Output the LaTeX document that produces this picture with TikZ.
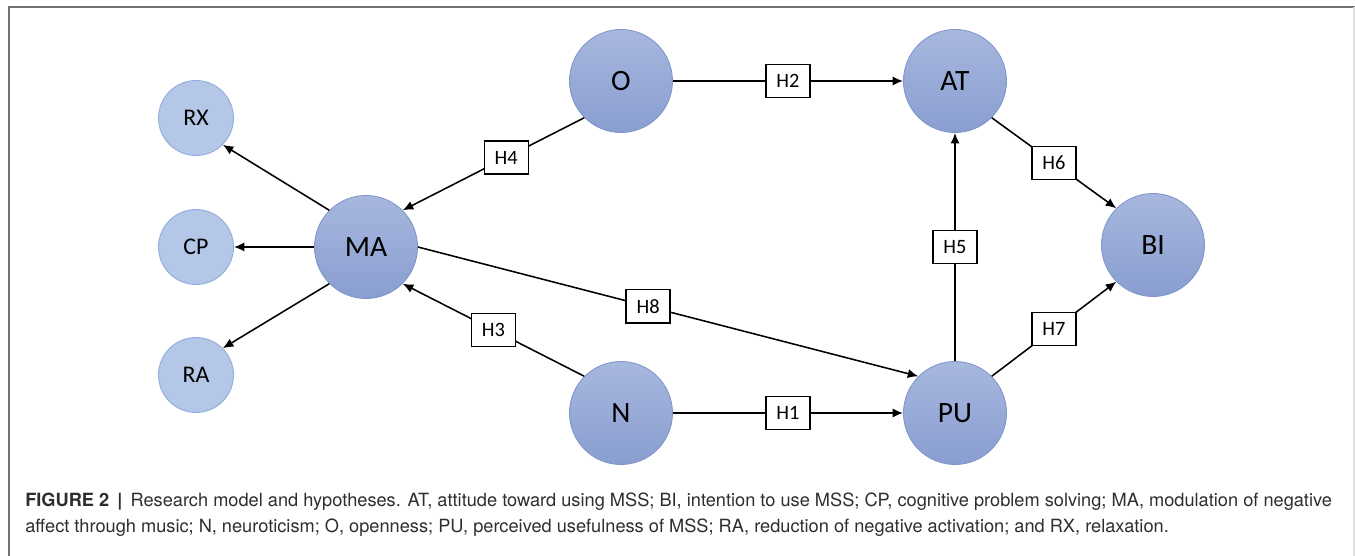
\documentclass[tikz,border=0pt]{standalone}
\usepackage{fontspec}
\setmainfont{Carlito}
\newfontfamily\capfont{TeX Gyre Heros}
\usepackage{xcolor}
\usetikzlibrary{
    positioning,
    arrows.meta
}
\definecolor{bigtop}{HTML}{A7B7DE}
\definecolor{bigbot}{HTML}{899ED0}
\definecolor{bigline}{HTML}{7F96CB}
\definecolor{smallfill}{HTML}{B4C7E7}
\definecolor{smallline}{HTML}{8FAADC}
\definecolor{captext}{HTML}{2E2E2E}

\begin{document}
\begin{tikzpicture}[x=0.025cm,y=-0.025cm,
  bignode/.style={circle,draw=bigline,line width=0.6pt,top color=bigtop,bottom color=bigbot,
    minimum size=2.575cm,inner sep=0pt,font=\fontsize{21}{21}\selectfont},
  smallnode/.style={circle,draw=smallline,line width=0.6pt,fill=smallfill,
    minimum size=1.875cm,inner sep=0pt,font=\fontsize{17}{17}\selectfont},
  hbox/.style={draw,fill=white,line width=0.9pt,minimum width=1.1cm,minimum height=0.83cm,
    inner sep=0pt,font=\fontsize{14.5}{14.5}\selectfont},
  link/.style={line width=1.1pt,-{Latex[length=7.5pt,width=6.5pt]}}]
\useasboundingbox (0,0) rectangle (1355,556);
\draw[black!55,line width=1.1pt] (9,556) -- (9,7) -- (1355,7);
\draw[black!12,line width=0.8pt] (1354,7) -- (1354,556);

\node[smallnode] (RX) at (196,118) {RX};
\node[smallnode] (CP) at (196,247) {CP};
\node[smallnode] (RA) at (196,375) {RA};
\node[bignode] (MA) at (366,247) {MA};
\node[bignode] (O) at (621,81) {O};
\node[bignode] (AT) at (955,81) {AT};
\node[bignode] (N) at (621,413) {N};
\node[bignode] (PU) at (955,413) {PU};
\node[bignode] (BI) at (1153,245) {BI};

\draw[link] (MA.135) -- (RX.315);
\draw[link] (MA.west) -- (CP.east);
\draw[link] (MA.225) -- (RA.45);
\draw[link] (O.225) -- node[hbox,pos=0.43] (h4) {H4} (MA.45);
\draw[link] (N.135) -- node[hbox,pos=0.5] (h3) {H3} (MA.315);
\draw[link] (O.east) -- node[hbox] (h2) {H2} (AT.west);
\draw[link] (N.east) -- node[hbox] (h1) {H1} (PU.west);
\draw[link] (MA.east) -- node[hbox,pos=0.46] (h8) {H8} (PU.135);
\draw[link] (PU.north) -- node[hbox] (h5) {H5} (AT.south);
\draw[link] (AT.315) -- node[hbox] (h6) {H6} (BI.135);
\draw[link] (PU.45) -- node[hbox] (h7) {H7} (BI.225);

\node[anchor=base west,inner sep=0pt,text=captext,font=\capfont\fontsize{12.95}{12.95}\selectfont] (cap1) at (25,506)
  {\textbf{FIGURE 2} \,\textbf{|}\, Research model and hypotheses. AT, attitude toward using MSS; BI, intention to use MSS; CP, cognitive problem solving; MA, modulation of negative};
\node[anchor=base west,inner sep=0pt,text=captext,font=\capfont\fontsize{12.95}{12.95}\selectfont] (cap2) at (25,532)
  {affect through music; N, neuroticism; O, openness; PU, perceived usefulness of MSS; RA, reduction of negative activation; and RX, relaxation.};
\end{tikzpicture}
\end{document}
